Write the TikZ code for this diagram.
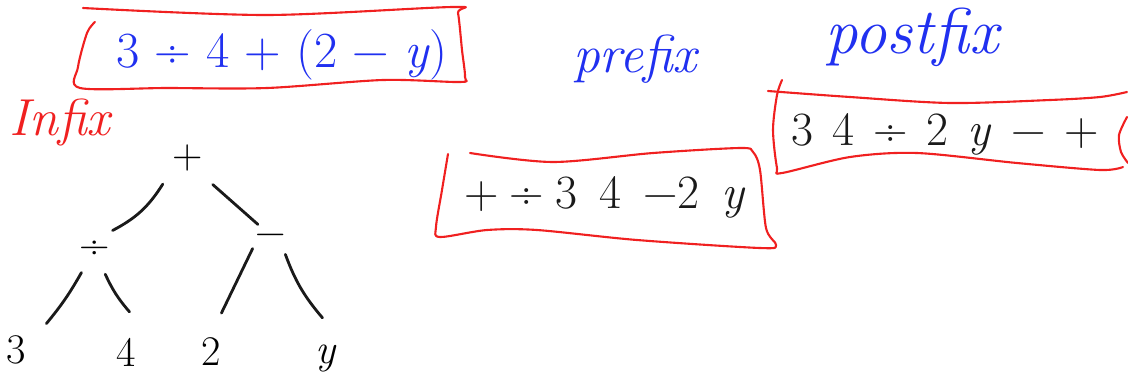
\documentclass[tikz,border=0pt]{standalone}
\usepackage{fontspec}
\usetikzlibrary{positioning}
\definecolor{inkred}{HTML}{F02020}
\definecolor{inkblue}{HTML}{2030F0}
\definecolor{inkblack}{HTML}{1A1A1A}
\newcommand{\gap}{\hspace{0.3em}}
\newcommand{\tgap}{\hspace{0.23em}}
\newcommand{\pgap}{\hspace{0.2em}}
\tikzset{
  penbox/.style    = {draw=inkred, line width=1.5pt, line cap=round, line join=round},
  pentitle/.style  = {text=inkred, font=\fontsize{37}{37}\selectfont\itshape, inner sep=0pt},
  penlabel/.style  = {text=inkblue, font=\fontsize{38}{38}\selectfont\itshape, inner sep=0pt},
  exprtxt/.style   = {font=\fontsize{34}{34}\selectfont, inner sep=0pt},
  opnode/.style    = {circle, minimum size=1.3cm, inner sep=0pt,
                      font=\fontsize{30}{30}\selectfont},
  leafnode/.style  = {opnode, minimum size=2cm},
  branch/.style    = {draw=inkblack, line width=2pt, line cap=round},
}
\begin{document}
\begin{tikzpicture}[x=0.025cm, y=-0.025cm]
    \useasboundingbox (0,0) rectangle (1128,383);

    % written forms
    \node[exprtxt, text=inkblue, font=\fontsize{36}{36}\selectfont] (infixexpr) at (282,55)
         {3\gap÷\gap4\gap+\gap(2\gap−\gap\textit{y})};
    \node[pentitle] (infixlbl) at (60,122) {Infix};
    \node[penlabel] (prefixlbl) at (635,59) {prefix};
    \node[penlabel, font=\fontsize{46}{46}\selectfont\itshape] (postfixlbl) at (912,37) {postfix};
    \node[exprtxt, text=inkblack] (prefixexpr) at (605,197)
         {+\tgap÷\tgap3\tgap\tgap4\tgap\tgap−2\tgap\tgap\textit{y}};
    \node[exprtxt, text=inkblack] (postfixexpr) at (945,134)
         {3\pgap\pgap4\pgap\pgap÷\pgap\pgap2\pgap\pgap\textit{y}\pgap\pgap−\pgap\pgap+};

    % boxes round them
    \draw[penbox] plot[smooth, tension=0.5] coordinates {(95,22) (87,33) (78,67) (80,88)
         (167,88) (267,88) (383,80) (460,82) (465,77) (462,50) (458,13) (453,7) (267,15) (83,8)};
    \draw[penbox] plot[smooth, tension=0.5] coordinates {(448,154) (442,190) (436,227) (440,237)
         (487,230) (537,230) (637,240) (760,248) (776,245) (766,228) (760,170) (753,152)
         (740,148) (653,153) (553,162) (470,153)};
    \draw[penbox] plot[smooth, tension=0.5] coordinates {(782,80) (777,95) (773,130) (777,168)
         (782,173) (850,157) (917,153) (1017,163) (1100,170) (1123,167)};
    \draw[penbox] plot[smooth, tension=0.5] coordinates {(768,91) (850,97) (950,103)
         (1050,100) (1100,97) (1127,92)};
    \draw[penbox] plot[smooth, tension=0.5] coordinates {(1127,117) (1119,135) (1121,152) (1128,163)};

    % expression tree
    \node[opnode, minimum size=1.8cm] (plus) at (188,158) {+};
    \node[opnode] (div) at (95,250) {÷};
    \node[opnode, minimum size=1cm] (minus) at (271,240) {−};
    \node[leafnode] (n3) at (16,350) {3};
    \node[leafnode] (n4) at (126,352) {4};
    \node[leafnode] (n2) at (211,352) {2};
    \node[leafnode] (ny) at (326,358) {\textit{y}};

    \draw[branch] (plus.226) to[bend left=15] (div.48);
    \draw[branch] (plus.313) to (minus.130);
    \draw[branch] (div.239) to[bend left=5] (n3.41);
    \draw[branch] (div.293) to[bend right=8] (n4.85);
    \draw[branch] (minus.205) to (n2.75);
    \draw[branch] (minus.315) to[bend right=10] (ny.95);
\end{tikzpicture}
\end{document}
